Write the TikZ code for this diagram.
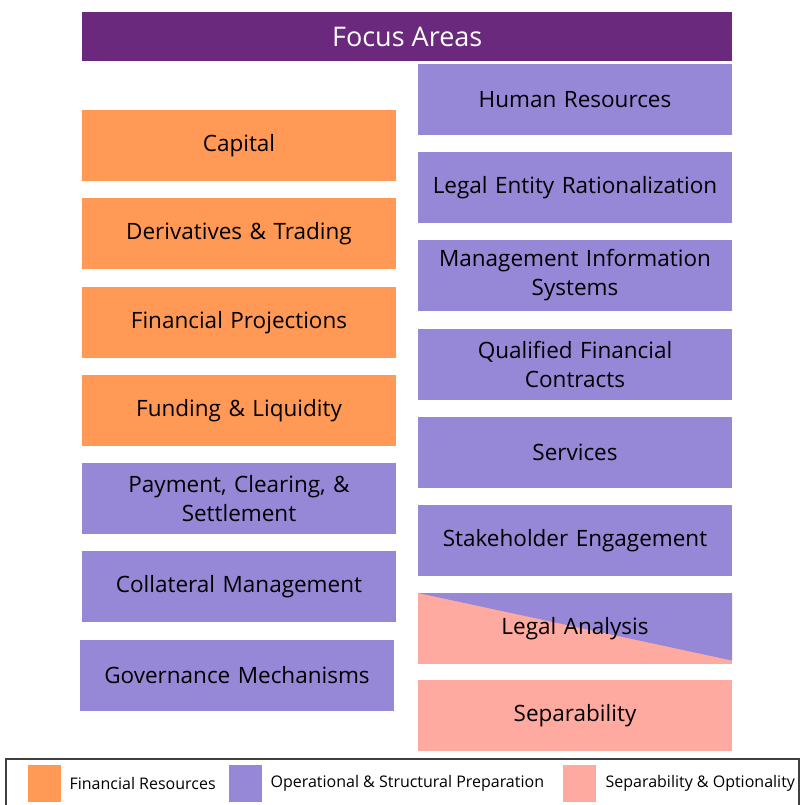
\documentclass[tikz,border=0pt]{standalone}
\usepackage{fontspec}
\usetikzlibrary{positioning}
\setmainfont{Open Sans}
\definecolor{hdr}{HTML}{6B297D}
\definecolor{finc}{HTML}{FF9955}
\definecolor{opc}{HTML}{9688D6}
\definecolor{sepc}{HTML}{FFAAA0}
\definecolor{lgd}{HTML}{404040}
\tikzset{
  box/.style={anchor=north west, inner sep=0pt, outer sep=0pt, minimum width=314pt, minimum height=71pt, align=center, text width=310pt, font=\fontsize{22.5}{29}\selectfont, text=black},
  finbox/.style={box, fill=finc},
  opbox/.style={box, fill=opc},
  sepbox/.style={box, fill=sepc},
  swatch/.style={anchor=north west, inner sep=0pt, minimum width=33pt, minimum height=37pt},
  lgtext/.style={anchor=west, inner sep=0pt, font=\fontsize{16}{19}\selectfont}
}
\begin{document}
\begin{tikzpicture}[x=1pt,y=-1pt]
\useasboundingbox (0,0) rectangle (804,805);
\node[anchor=north west, fill=hdr, inner sep=0pt, minimum width=650pt, minimum height=49pt, text=white, font=\fontsize{27}{32}\selectfont] (hdrn) at (82,12) {Focus Areas};
% left column
\node[finbox] (cap) at (82,110) {Capital};
\node[finbox] (der) at (82,198) {Derivatives \& Trading};
\node[finbox] (fp) at (82,287) {Financial Projections};
\node[finbox] (fl) at (82,375) {Funding \& Liquidity};
\node[opbox] (pcs) at (82,463) {Payment, Clearing, \&\\Settlement};
\node[opbox] (cm) at (82,551) {Collateral Management};
\node[opbox] (gm) at (80,640) {Governance Mechanisms};
% right column
\node[opbox] (hr) at (418,64) {Human Resources};
\node[opbox] (ler) at (418,152) {Legal Entity Rationalization};
\node[opbox] (mis) at (418,240) {Management Information\\Systems};
\node[opbox] (qfc) at (418,329) {Qualified Financial\\Contracts};
\node[opbox] (srv) at (418,417) {Services};
\node[opbox] (se) at (418,505) {Stakeholder Engagement};
\node[sepbox, path picture={\fill[opc] (path picture bounding box.north west) -- (path picture bounding box.north east) -- ([yshift=3.5pt]path picture bounding box.south east) -- cycle;}] (la) at (418,593) {Legal Analysis};
\node[sepbox] (sep) at (418,680) {Separability};
% legend
\draw[lgd, line width=1.5pt] (6,759) rectangle (799,808);
\node[swatch, fill=finc] (sw1) at (28,765) {};
\node[lgtext, right=8pt of sw1.east] (lt1) {Financial Resources};
\node[swatch, fill=opc] (sw2) at (229,765) {};
\node[lgtext, right=8pt of sw2.east] (lt2) {Operational \& Structural Preparation};
\node[swatch, fill=sepc] (sw3) at (563,765) {};
\node[lgtext, right=9pt of sw3.east] (lt3) {Separability \& Optionality};
\end{tikzpicture}
\end{document}
